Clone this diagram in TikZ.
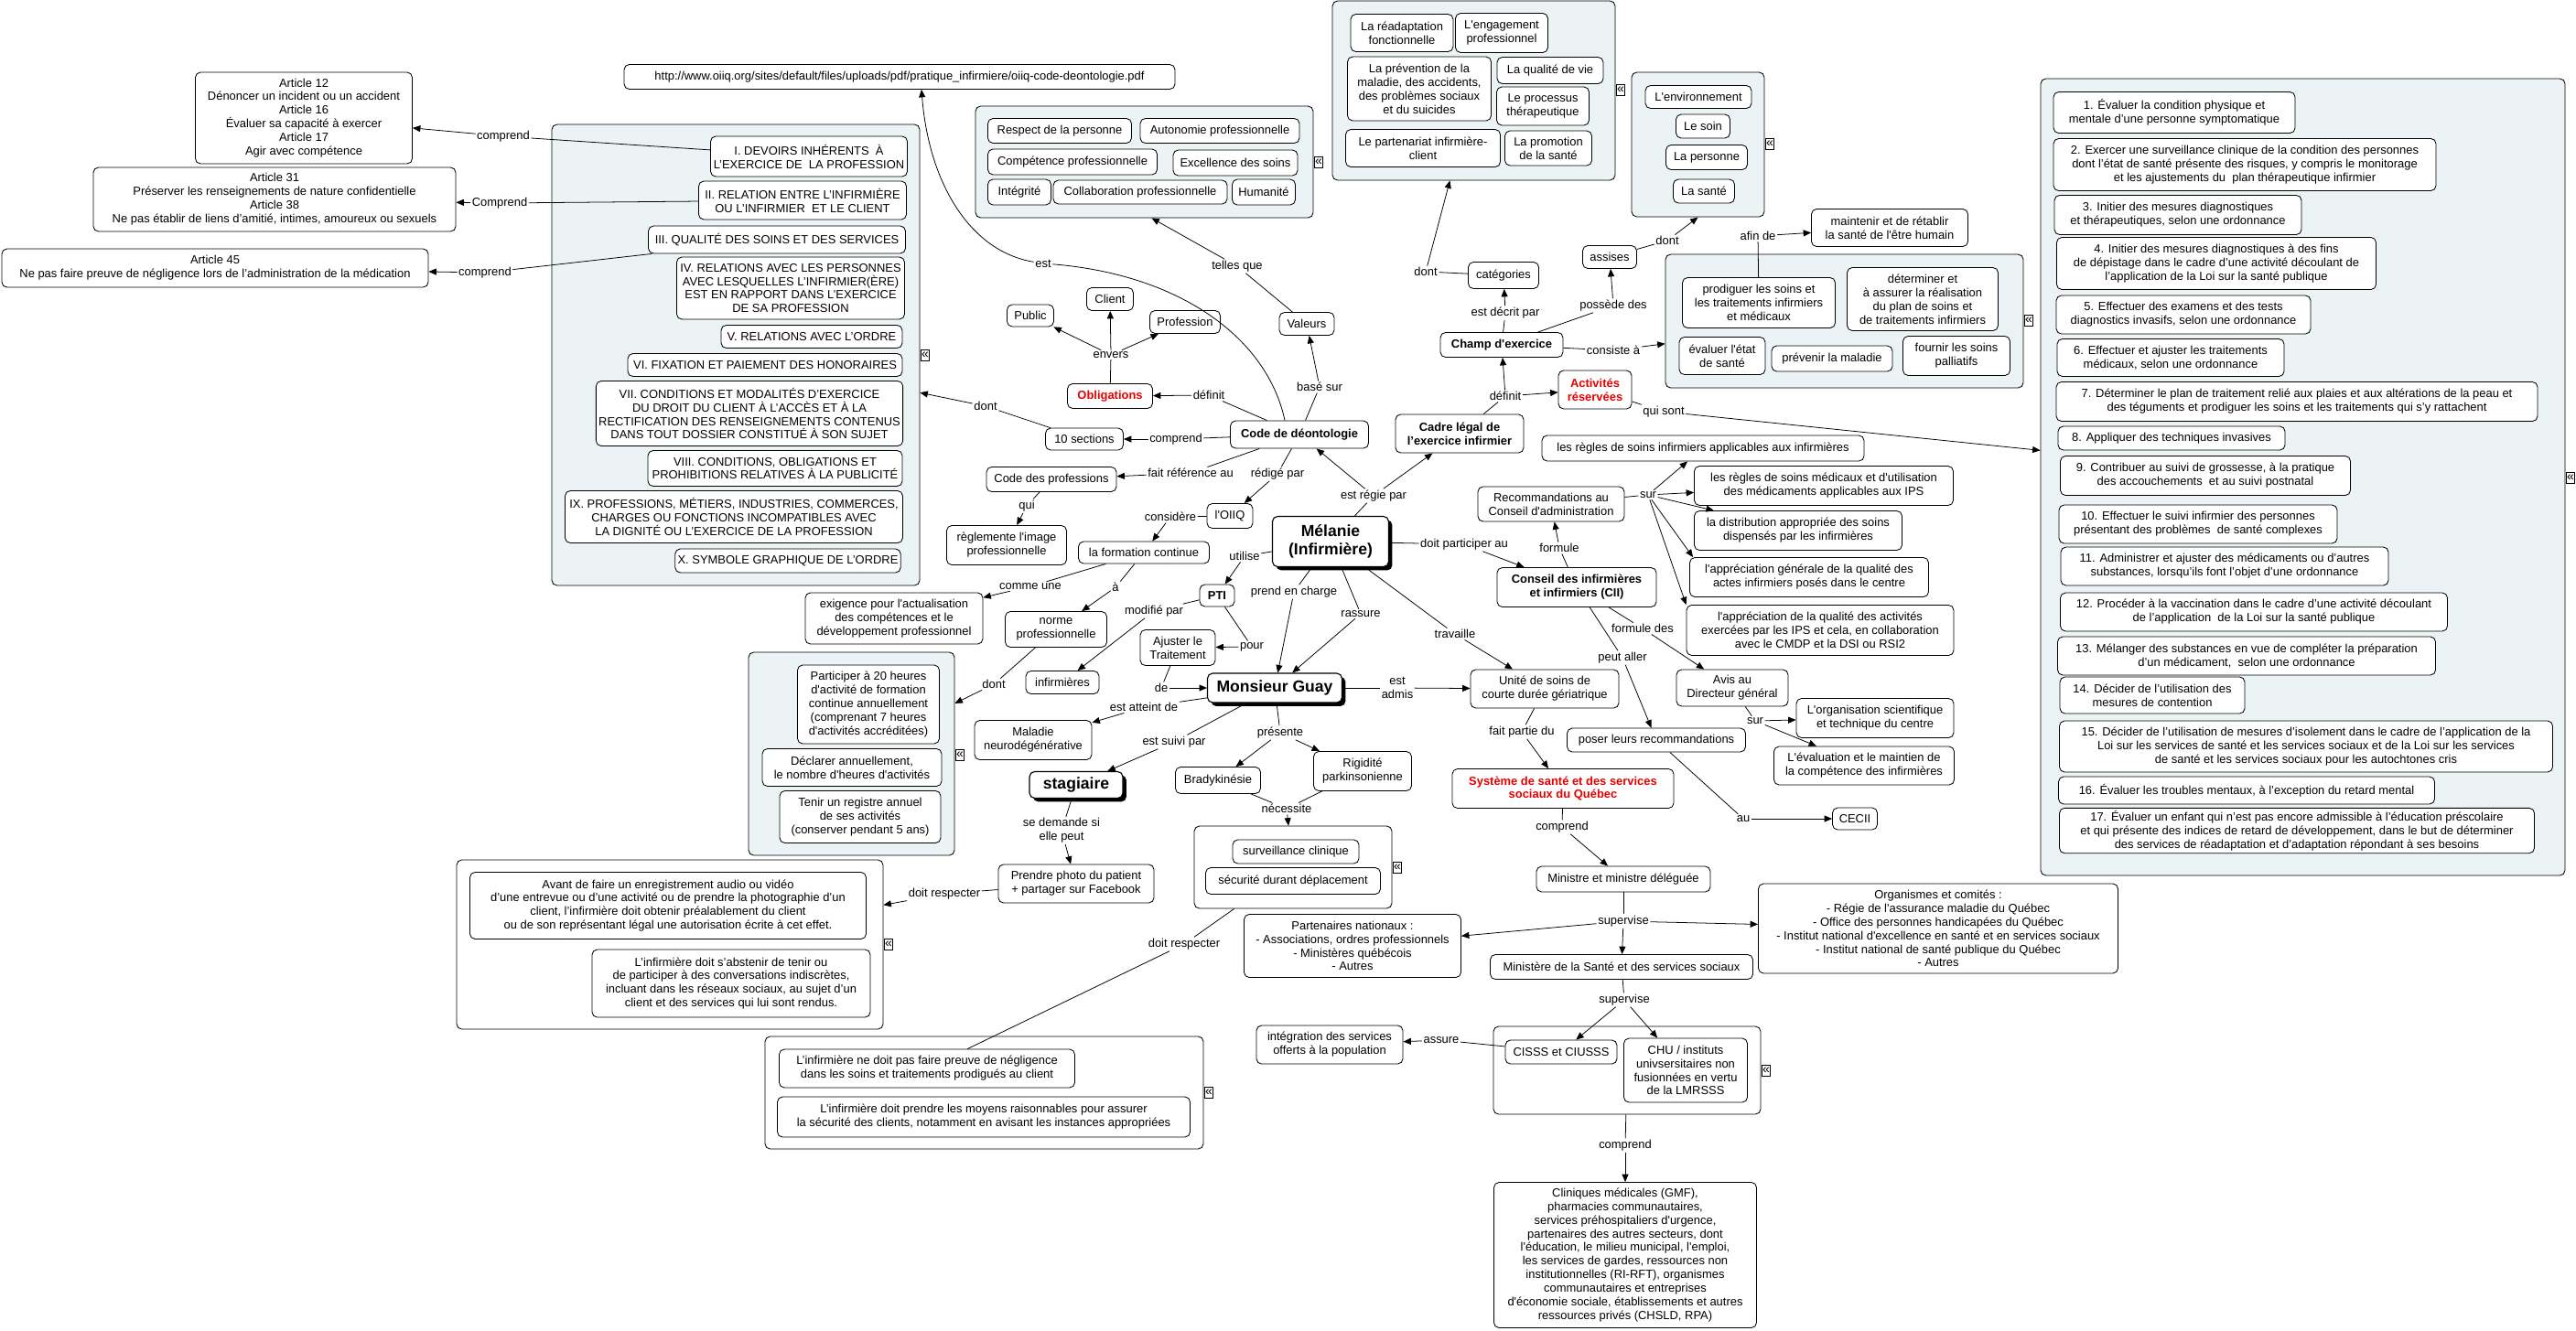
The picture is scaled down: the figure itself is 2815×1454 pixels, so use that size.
\documentclass[tikz,border=0pt]{standalone}
\usepackage{fontspec}
\newfontfamily\cmfam{Liberation Sans}
\usetikzlibrary{arrows.meta,shadows}
\definecolor{grpfill}{RGB}{235,243,245}
\definecolor{cmred}{RGB}{232,0,0}
\newcommand\cmtxt{\cmfam\fontsize{9.2}{10.6}\selectfont}
\newcommand\cmbig{\cmfam\bfseries\fontsize{12.5}{14.5}\selectfont}

\begin{document}
\begin{tikzpicture}[x=0.025cm, y=-0.025cm,
    sz/.style 2 args={minimum width=#1*0.025cm, minimum height=#2*0.025cm},
    cbox/.style={draw, line width=0.6pt, rounded corners=4pt, fill=white, align=center, inner sep=2pt, font=\cmtxt},
    keybox/.style={cbox, font=\cmtxt\bfseries},
    redbox/.style={keybox, text=cmred},
    focus/.style={cbox, line width=0.8pt, font=\cmbig,
                  drop shadow={shadow xshift=2.8pt, shadow yshift=-2.8pt, fill=black, opacity=1}},
    lnk/.style={inner sep=1pt, align=center, font=\cmtxt},
    grp/.style={draw, line width=0.6pt, rounded corners=4pt, fill=grpfill, inner sep=0pt},
    grpw/.style={grp, fill=white},
    fold/.style={draw, line width=0.5pt, inner sep=0pt, minimum width=0.24cm, minimum height=0.3cm, fill=white,
                 font=\cmfam\fontsize{10}{10}\selectfont},
    ln/.style={line width=0.55pt},
    arr/.style={ln, -{Triangle[length=6pt, width=5pt]}}
]
    \fill[white] (0,0) rectangle (2815,1454);
    \useasboundingbox (0,0) rectangle (2815,1454);

    \node[grp, sz={402}{504}] (secgrp) at (804,388) {};
    \node[grp, sz={369}{122}] (valgrp) at (1250.5,177) {};
    \node[grp, sz={309}{196}] (catgrp) at (1610.5,99) {};
    \node[grp, sz={145}{158}] (assgrp) at (1855.5,158) {};
    \node[grp, sz={391}{146}] (consgrp) at (2015.5,351) {};
    \node[grp, sz={573}{871}] (actgrp) at (2516.5,521.5) {};
    \node[grp, sz={225}{222}] (partgrp) at (930.5,824) {};
    \node[grpw, sz={216}{90}] (survgrp) at (1413,948) {};
    \node[grpw, sz={466}{185}] (avantgrp) at (732,1032.5) {};
    \node[grpw, sz={479}{123}] (neglgrp) at (1075.5,1194.5) {};
    \node[grpw, sz={292}{96}] (cissgrp) at (1778,1170) {};

    \node[fold] (fold1) at (1011,388) {«};
    \node[fold] (fold2) at (1441,177) {«};
    \node[fold] (fold3) at (1771,98) {«};
    \node[fold] (fold4) at (1934,157) {«};
    \node[fold] (fold5) at (2217,350) {«};
    \node[fold] (fold6) at (2809,522) {«};
    \node[fold] (fold7) at (1049,825) {«};
    \node[fold] (fold8) at (1527,948) {«};
    \node[fold] (fold9) at (971,1032) {«};
    \node[fold] (fold10) at (1321,1194) {«};
    \node[fold] (fold11) at (1930,1170) {«};

    \node[cbox, sz={237}{100}] (art12) at (332,129) {Article 12\\Dénoncer un incident ou un accident\\Article 16\\Évaluer sa capacité à exercer\\Article 17\\Agir avec compétence};
    \node[cbox, sz={396}{70}] (art31) at (300,218) {Article 31\\Préserver les renseignements de nature confidentielle\\Article 38\\Ne pas établir de liens d’amitié, intimes, amoureux ou sexuels};
    \node[cbox, sz={466}{42}] (art45) at (235,293) {Article 45\\Ne pas faire preuve de négligence lors de l’administration de la médication};
    \node[cbox, sz={602}{27}] (url) at (983,84) {http://www.oiiq.org/sites/default/files/uploads/pdf/pratique\_infirmiere/oiiq-code-deontologie.pdf};

    \node[cbox, sz={215}{44}] (sec1) at (884,171) {I. DEVOIRS INHÉRENTS \ À\\L’EXERCICE DE \ LA PROFESSION};
    \node[cbox, sz={227}{42}] (sec2) at (877,219) {II. RELATION ENTRE L’INFIRMIÈRE\\OU L’INFIRMIER \ ET LE CLIENT};
    \node[cbox, sz={281}{30}] (sec3) at (849,262) {III. QUALITÉ DES SOINS ET DES SERVICES};
    \node[cbox, sz={249}{68}] (sec4) at (864,315) {IV. RELATIONS AVEC LES PERSONNES\\AVEC LESQUELLES L’INFIRMIER(ÈRE)\\EST EN RAPPORT DANS L’EXERCICE\\DE SA PROFESSION};
    \node[cbox, sz={198}{25}] (sec5) at (887,368) {V. RELATIONS AVEC L’ORDRE};
    \node[cbox, sz={300}{25}] (sec6) at (836,399) {VI. FIXATION ET PAIEMENT DES HONORAIRES};
    \node[cbox, sz={334}{71}] (sec7) at (819,452) {VII. CONDITIONS ET MODALITÉS D’EXERCICE\\DU DROIT DU CLIENT À L’ACCÈS ET À LA\\RECTIFICATION DES RENSEIGNEMENTS CONTENUS\\DANS TOUT DOSSIER CONSTITUÉ À SON SUJET};
    \node[cbox, sz={278}{39}] (sec8) at (847,512) {VIII. CONDITIONS, OBLIGATIONS ET\\PROHIBITIONS RELATIVES À LA PUBLICITÉ};
    \node[cbox, sz={369}{57}] (sec9) at (802,565) {IX. PROFESSIONS, MÉTIERS, INDUSTRIES, COMMERCES,\\CHARGES OU FONCTIONS INCOMPATIBLES AVEC\\LA DIGNITÉ OU L’EXERCICE DE LA PROFESSION};
    \node[cbox, sz={244}{26}] (sec10) at (861,613) {X. SYMBOLE GRAPHIQUE DE L’ORDRE};

    \node[cbox, sz={157}{27}] (val1) at (1158,143) {Respect de la personne};
    \node[cbox, sz={174}{27}] (val2) at (1333,143) {Autonomie professionnelle};
    \node[cbox, sz={185}{28}] (val3) at (1172,177) {Compétence professionnelle};
    \node[cbox, sz={136}{28}] (val4) at (1350,178) {Excellence des soins};
    \node[cbox, sz={69}{28}] (val5) at (1114,210) {Intégrité};
    \node[cbox, sz={190}{26}] (val6) at (1246,210) {Collaboration professionnelle};
    \node[cbox, sz={69}{28}] (val7) at (1381,210) {Humanité};

    \node[cbox, sz={51}{25}] (client) at (1213,327) {Client};
    \node[cbox, sz={51}{24}] (public) at (1126,345) {Public};
    \node[cbox, sz={77}{25}] (prof) at (1295,352) {Profession};
    \node[redbox, sz={93}{27}] (oblig) at (1213,433) {Obligations};
    \node[cbox, sz={85}{24}] (sections) at (1185,480) {10 sections};
    \node[keybox, sz={151}{30}] (code) at (1420,475) {Code de déontologie};
    \node[cbox, sz={60}{25}] (valeurs) at (1428,354) {Valeurs};

    \node[cbox, sz={112}{41}] (cat1) at (1532,36) {La réadaptation\\fonctionnelle};
    \node[cbox, sz={101}{43}] (cat2) at (1641,36) {L'engagement\\professionnel};
    \node[cbox, sz={157}{70}] (cat3) at (1551,97) {La prévention de la\\maladie, des accidents,\\des problèmes sociaux\\et du suicides};
    \node[cbox, sz={116}{29}] (cat4) at (1694,77) {La qualité de vie};
    \node[cbox, sz={101}{42}] (cat5) at (1686,116) {Le processus\\thérapeutique};
    \node[cbox, sz={169}{41}] (cat6) at (1555,162) {Le partenariat infirmière-\\client};
    \node[cbox, sz={95}{38}] (cat7) at (1692,162) {La promotion\\de la santé};

    \node[cbox, sz={116}{25}] (ass1) at (1856,106) {L'environnement};
    \node[cbox, sz={59}{26}] (ass2) at (1861,138) {Le soin};
    \node[cbox, sz={89}{27}] (ass3) at (1865,172) {La personne};
    \node[cbox, sz={67}{26}] (ass4) at (1862,209) {La santé};

    \node[cbox, sz={59}{25}] (assises) at (1759,281) {assises};
    \node[cbox, sz={77}{29}] (categ) at (1643,301) {catégories};
    \node[keybox, sz={134}{27}] (champ) at (1641,377) {Champ d'exercice};
    \node[redbox, sz={80}{42}] (activ) at (1743,426) {Activités\\réservées};
    \node[keybox, sz={140}{42}] (cadre) at (1595,474) {Cadre légal de\\l’exercice infirmier};

    \node[cbox, sz={167}{55}] (cons1) at (1922,331) {prodiguer les soins et\\les traitements infirmiers\\et médicaux};
    \node[cbox, sz={165}{69}] (cons2) at (2101,327) {déterminer et\\à assurer la réalisation\\du plan de soins et\\de traitements infirmiers};
    \node[cbox, sz={94}{41}] (cons3) at (1882,389) {évaluer l'état\\de santé};
    \node[cbox, sz={132}{28}] (cons4) at (2002,392) {prévenir la maladie};
    \node[cbox, sz={117}{43}] (cons5) at (2138,389) {fournir les soins\\palliatifs};
    \node[cbox, sz={171}{41}] (maint) at (2065,249) {maintenir et de rétablir\\la santé de l'être humain};

    \node[cbox, sz={264}{45}] (act1) at (2376,123) {1. Évaluer la condition physique et\\mentale d’une personne symptomatique};
    \node[cbox, sz={418}{57}] (act2) at (2453,180) {2. Exercer une surveillance clinique de la condition des personnes\\dont l’état de santé présente des risques, y compris le monitorage\\et les ajustements du \ plan thérapeutique infirmier};
    \node[cbox, sz={270}{43}] (act3) at (2380,235) {3. Initier des mesures diagnostiques\\et thérapeutiques, selon une ordonnance};
    \node[cbox, sz={349}{57}] (act4) at (2422,288) {4. Initier des mesures diagnostiques à des fins\\de dépistage dans le cadre d’une activité découlant de\\l’application de la Loi sur la santé publique};
    \node[cbox, sz={278}{42}] (act5) at (2386,344) {5. Effectuer des examens et des tests\\diagnostics invasifs, selon une ordonnance};
    \node[cbox, sz={248}{41}] (act6) at (2372,391) {6. Effectuer et ajuster les traitements\\médicaux, selon une ordonnance};
    \node[cbox, sz={526}{43}] (act7) at (2510,439) {7. Déterminer le plan de traitement relié aux plaies et aux altérations de la peau et\\des téguments et prodiguer les soins et les traitements qui s’y rattachent};
    \node[cbox, sz={248}{26}] (act8) at (2373,479) {8. Appliquer des techniques invasives};
    \node[cbox, sz={317}{43}] (act9) at (2410,520) {9. Contribuer au suivi de grossesse, à la pratique\\des accouchements \ et au suivi postnatal};
    \node[cbox, sz={304}{42}] (act10) at (2402,573) {10. Effectuer le suivi infirmier des personnes\\présentant des problèmes \ de santé complexes};
    \node[cbox, sz={358}{42}] (act11) at (2431,619) {11. Administrer et ajuster des médicaments ou d’autres\\substances, lorsqu’ils font l’objet d’une ordonnance};
    \node[cbox, sz={423}{42}] (act12) at (2463,669) {12. Procéder à la vaccination dans le cadre d’une activité découlant\\de l’application \ de la Loi sur la santé publique};
    \node[cbox, sz={413}{42}] (act13) at (2455,717) {13. Mélanger des substances en vue de compléter la préparation\\d’un médicament, \ selon une ordonnance};
    \node[cbox, sz={202}{40}] (act14) at (2352,760) {14. Décider de l’utilisation des\\mesures de contention};
    \node[cbox, sz={539}{56}] (act15) at (2520,816) {15. Décider de l’utilisation de mesures d’isolement dans le cadre de l’application de la\\Loi sur les services de santé et les services sociaux et de la Loi sur les services\\de santé et les services sociaux pour les autochtones cris};
    \node[cbox, sz={411}{30}] (act16) at (2455,864) {16. Évaluer les troubles mentaux, à l’exception du retard mental};
    \node[cbox, sz={519}{48}] (act17) at (2510,908) {17. Évaluer un enfant qui n’est pas encore admissible à l’éducation préscolaire\\et qui présente des indices de retard de développement, dans le but de déterminer\\des services de réadaptation et d’adaptation répondant à ses besoins};

    \node[focus, sz={127}{55}] (melanie) at (1454,592) {Mélanie\\(Infirmière)};
    \node[focus, sz={147}{32}] (guay) at (1393,752) {Monsieur Guay};
    \node[focus, sz={102}{29}] (stag) at (1176,858) {stagiaire};

    \node[cbox, sz={142}{27}] (codeprof) at (1149,524) {Code des professions};
    \node[cbox, sz={50}{27}] (oiiq) at (1344,564) {l'OIIQ};
    \node[cbox, sz={143}{24}] (formation) at (1250,604) {la formation continue};
    \node[cbox, sz={131}{43}] (regl) at (1100,596) {règlemente l'image\\professionnelle};
    \node[cbox, sz={194}{56}] (exig) at (977,676) {exigence pour l'actualisation\\des compétences et le\\développement professionnel};
    \node[cbox, sz={111}{39}] (norme) at (1154,688) {norme\\professionnelle};
    \node[cbox, sz={155}{86}] (part1) at (949,770) {Participer à 20 heures\\d'activité de formation\\continue annuellement\\(comprenant 7 heures\\d'activités accréditées)};
    \node[cbox, sz={196}{41}] (part2) at (931,839) {Déclarer annuellement,\\le nombre d'heures d'activités};
    \node[cbox, sz={176}{57}] (part3) at (940,893) {Tenir un registre annuel\\de ses activités\\(conserver pendant 5 ans)};
    \node[keybox, sz={38}{24}] (pti) at (1330,651) {PTI};
    \node[cbox, sz={80}{25}] (infirm) at (1161,746) {infirmières};
    \node[cbox, sz={82}{39}] (ajust) at (1287,708) {Ajuster le\\Traitement};
    \node[cbox, sz={128}{43}] (maladie) at (1129,809) {Maladie\\neurodégénérative};
    \node[cbox, sz={170}{42}] (photo) at (1176,966) {Prendre photo du patient\\+ partager sur Facebook};
    \node[cbox, sz={93}{29}] (brady) at (1331,853) {Bradykinésie};
    \node[cbox, sz={107}{43}] (rigid) at (1489,843) {Rigidité\\parkinsonienne};
    \node[cbox, sz={138}{26}] (surv1) at (1416,931) {surveillance clinique};
    \node[cbox, sz={191}{29}] (surv2) at (1413,963) {sécurité durant déplacement};
    \node[cbox, sz={433}{73}] (avant1) at (730,990) {Avant de faire un enregistrement audio ou vidéo\\d’une entrevue ou d’une activité ou de prendre la photographie d’un\\client, l’infirmière doit obtenir préalablement du client\\ou de son représentant légal une autorisation écrite à cet effet.};
    \node[cbox, sz={304}{74}] (avant2) at (799,1075) {L’infirmière doit s’abstenir de tenir ou\\de participer à des conversations indiscrètes,\\incluant dans les réseaux sociaux, au sujet d’un\\client et des services qui lui sont rendus.};
    \node[cbox, sz={323}{42}] (negl1) at (1013,1168) {L’infirmière ne doit pas faire preuve de négligence\\dans les soins et traitements prodigués au client};
    \node[cbox, sz={451}{44}] (negl2) at (1075,1221) {L’infirmière doit prendre les moyens raisonnables pour assurer\\la sécurité des clients, notamment en avisant les instances appropriées};

    \node[keybox, sz={174}{43}] (cii) at (1723,642) {Conseil des infirmières\\et infirmiers (CII)};
    \node[cbox, sz={160}{38}] (recom) at (1695,551) {Recommandations au\\Conseil d'administration};
    \node[cbox, sz={352}{28}] (regles) at (1861,490) {les règles de soins infirmiers applicables aux infirmières};
    \node[cbox, sz={283}{43}] (medic) at (1993,531) {les règles de soins médicaux et d'utilisation\\des médicaments applicables aux IPS};
    \node[cbox, sz={227}{43}] (distrib) at (1965,580) {la distribution appropriée des soins\\dispensés par les infirmières};
    \node[cbox, sz={261}{43}] (appgen) at (1977,631) {l'appréciation générale de la qualité des\\actes infirmiers posés dans le centre};
    \node[cbox, sz={292}{55}] (appqual) at (1989,689) {l'appréciation de la qualité des activités\\exercées par les IPS et cela, en collaboration\\avec le CMDP et la DSI ou RSI2};
    \node[cbox, sz={162}{42}] (unite) at (1688,753) {Unité de soins de\\courte durée gériatrique};
    \node[cbox, sz={122}{40}] (avis) at (1893,752) {Avis au\\Directeur général};
    \node[cbox, sz={172}{43}] (organis) at (2049,785) {L'organisation scientifique\\et technique du centre};
    \node[cbox, sz={197}{42}] (evalu) at (2037,837) {L'évaluation et le maintien de\\la compétence des infirmières};
    \node[cbox, sz={195}{26}] (poser) at (1810,809) {poser leurs recommandations};
    \node[cbox, sz={49}{24}] (cecii) at (2027,895) {CECII};
    \node[redbox, sz={242}{43}] (systeme) at (1708,862) {Système de santé et des services\\sociaux du Québec};
    \node[cbox, sz={190}{28}] (ministre) at (1774,961) {Ministre et ministre déléguée};
    \node[cbox, sz={237}{69}] (partn) at (1478,1034) {Partenaires nationaux :\\- Associations, ordres professionnels\\- Ministères québécois\\- Autres};
    \node[cbox, sz={393}{98}] (organ) at (2118,1015) {Organismes et comités :\\- Régie de l'assurance maladie du Québec\\- Office des personnes handicapées du Québec\\- Institut national d'excellence en santé et en services sociaux\\- Institut national de santé publique du Québec\\- Autres};
    \node[cbox, sz={287}{27}] (minist) at (1772,1057) {Ministère de la Santé et des services sociaux};
    \node[cbox, sz={122}{26}] (cisss) at (1706,1150) {CISSS et CIUSSS};
    \node[cbox, sz={135}{70}] (chu) at (1842,1170) {CHU / instituts\\univsersitaires non\\fusionnées en vertu\\de la LMRSSS};
    \node[cbox, sz={160}{42}] (integ) at (1453,1142) {intégration des services\\offerts à la population};
    \node[cbox, sz={287}{159}] (clin) at (1776,1372) {Cliniques médicales (GMF),\\pharmacies communautaires,\\services préhospitaliers d'urgence,\\partenaires des autres secteurs, dont\\l'éducation, le milieu municipal, l'emploi,\\les services de gardes, ressources non\\institutionnelles (RI-RFT), organismes\\communautaires et entreprises\\d'économie sociale, établissements et autres\\ressources privés (CHSLD, RPA)};

    \node[lnk] (lc1) at (550,149) {comprend};
    \node[lnk] (lc2) at (546,222) {Comprend};
    \node[lnk] (lc3) at (530,298) {comprend};
    \node[lnk] (lest) at (1140,288) {est};
    \node[lnk] (ltelles) at (1352,291) {telles que};
    \node[lnk] (lbase) at (1442,423) {basé sur};
    \node[lnk] (lenvers) at (1214,388) {envers};
    \node[lnk] (ldefinit) at (1321,432) {définit};
    \node[lnk] (ldont1) at (1077,444) {dont};
    \node[lnk] (lcomprend) at (1285,480) {comprend};
    \node[lnk] (lfait) at (1301,517) {fait référence au};
    \node[lnk] (lredige) at (1396,518) {rédigé par};
    \node[lnk] (lqui) at (1122,553) {qui};
    \node[lnk] (lconsid) at (1279,565) {considère};
    \node[lnk] (lcomme) at (1126,641) {comme une};
    \node[lnk] (la) at (1219,642) {à};
    \node[lnk] (ldont2) at (1086,748) {dont};
    \node[lnk] (lutilise) at (1360,608) {utilise};
    \node[lnk] (lmodif) at (1261,668) {modifié par};
    \node[lnk] (lpour) at (1368,707) {pour};
    \node[lnk] (lde) at (1269,752) {de};
    \node[lnk] (lprend) at (1414,647) {prend en charge};
    \node[lnk] (lrassure) at (1487,671) {rassure};
    \node[lnk] (latteint) at (1250,773) {est atteint de};
    \node[lnk] (lsuivi) at (1283,811) {est suivi par};
    \node[lnk] (ldemande) at (1160,908) {se demande si\\elle peut};
    \node[lnk] (lresp1) at (1032,977) {doit respecter};
    \node[lnk] (lpresente) at (1399,801) {présente};
    \node[lnk] (lnecess) at (1406,884) {nécessite};
    \node[lnk] (lresp2) at (1294,1032) {doit respecter};
    \node[lnk] (lregie) at (1501,542) {est régie par};
    \node[lnk] (ldefinit2) at (1645,433) {définit};
    \node[lnk] (ldecrit) at (1645,342) {est décrit par};
    \node[lnk] (ldont3) at (1558,297) {dont};
    \node[lnk] (lpossede) at (1763,334) {possède des};
    \node[lnk] (ldont4) at (1822,263) {dont};
    \node[lnk] (lconsiste) at (1763,383) {consiste à};
    \node[lnk] (lafin) at (1921,258) {afin de};
    \node[lnk] (lquisont) at (1818,450) {qui sont};
    \node[lnk] (lpartic) at (1600,595) {doit participer au};
    \node[lnk] (lformule) at (1704,599) {formule};
    \node[lnk] (lsur1) at (1801,541) {sur};
    \node[lnk] (ltravaille) at (1590,693) {travaille};
    \node[lnk] (ladmis) at (1527,752) {est\\admis};
    \node[lnk] (lformdes) at (1795,687) {formule des};
    \node[lnk] (lpeut) at (1773,719) {peut aller};
    \node[lnk] (lsur2) at (1918,788) {sur};
    \node[lnk] (lau) at (1905,895) {au};
    \node[lnk] (lpartie) at (1663,800) {fait partie du};
    \node[lnk] (lcomprend2) at (1707,904) {comprend};
    \node[lnk] (lsuperv1) at (1774,1007) {supervise};
    \node[lnk] (lsuperv2) at (1775,1093) {supervise};
    \node[lnk] (lassure) at (1575,1137) {assure};
    \node[lnk] (lcomprend3) at (1776,1252) {comprend};

    \draw[ln] (sec1) -- (lc1);  \draw[arr] (lc1) -- (art12);
    \draw[ln] (sec2) -- (lc2);  \draw[arr] (lc2) -- (art31);
    \draw[ln] (sec3) -- (lc3);  \draw[arr] (lc3) -- (art45);
    \draw[ln] ([xshift=-0.4cm]code.north) .. controls (1385,370) and (1290,300) .. (lest);
    \draw[arr] (lest) .. controls (1060,275) and (1015,200) .. ([xshift=0.6cm]url.south);
    \draw[ln] (valeurs) -- (ltelles);  \draw[arr] (ltelles) -- ([xshift=0.2cm]valgrp.south);
    \draw[ln] (code) -- (lbase);  \draw[arr] (lbase) -- (valeurs);
    \draw[ln] (oblig) -- (lenvers);
    \draw[arr] (lenvers) -- (public);  \draw[arr] (lenvers) -- (client);  \draw[arr] (lenvers) -- (prof);
    \draw[ln] (code) -- (ldefinit);  \draw[arr] (ldefinit) -- (oblig);
    \draw[ln] (sections) -- (ldont1);  \draw[arr] (ldont1) -- (secgrp);
    \draw[ln] (code) -- (lcomprend);  \draw[arr] (lcomprend) -- (sections);
    \draw[ln] (code) -- (lfait);  \draw[arr] (lfait) -- (codeprof);
    \draw[ln] (code) -- (lredige);  \draw[arr] (lredige) -- (oiiq);
    \draw[ln] (codeprof) -- (lqui);  \draw[arr] (lqui) -- (regl);
    \draw[ln] (oiiq) -- (lconsid);  \draw[arr] (lconsid) -- (formation);
    \draw[ln] (formation) -- (lcomme);  \draw[arr] (lcomme) -- (exig);
    \draw[ln] (formation) -- (la);  \draw[arr] (la) -- (norme);
    \draw[ln] (norme) -- (ldont2);  \draw[arr] (ldont2) -- (partgrp);
    \draw[ln] (melanie) -- (lutilise);  \draw[arr] (lutilise) -- (pti);
    \draw[ln] (pti) -- (lmodif);  \draw[arr] (lmodif) -- (infirm);
    \draw[ln] (pti) -- (lpour);  \draw[arr] (lpour) -- (ajust);
    \draw[ln] (ajust) -- (lde);  \draw[arr] (lde) -- (guay);
    \draw[ln] (melanie) -- (lprend);  \draw[arr] (lprend) -- (guay);
    \draw[ln] (melanie) -- (lrassure);  \draw[arr] (lrassure) -- (guay);
    \draw[ln] (guay) -- (latteint);  \draw[arr] (latteint) -- (maladie);
    \draw[ln] (guay) -- (lsuivi);  \draw[arr] (lsuivi) -- (stag);
    \draw[ln] (stag) -- (ldemande);  \draw[arr] (ldemande) -- (photo);
    \draw[ln] (photo) -- (lresp1);  \draw[arr] (lresp1) -- (avantgrp);
    \draw[ln] (guay) -- (lpresente);
    \draw[arr] (lpresente) -- (brady);  \draw[arr] (lpresente) -- (rigid);
    \draw[ln] (brady) -- (lnecess);  \draw[ln] (rigid) -- (lnecess);
    \draw[arr] (lnecess) -- (survgrp);
    \draw[ln] (survgrp) -- (lresp2);  \draw[ln] (lresp2) -- (negl1);
    \draw[ln] (melanie) -- (lregie);
    \draw[arr] (lregie) -- (code);  \draw[arr] (lregie) -- (cadre);
    \draw[ln] (cadre) -- (ldefinit2);
    \draw[arr] (ldefinit2) -- (champ);  \draw[arr] (ldefinit2) -- (activ);
    \draw[ln] (champ) -- (ldecrit);  \draw[arr] (ldecrit) -- (categ);
    \draw[ln] (categ) -- (ldont3);  \draw[arr] (ldont3) -- (catgrp);
    \draw[ln] (champ) -- (lpossede);  \draw[arr] (lpossede) -- (assises);
    \draw[ln] (assises) -- (ldont4);  \draw[arr] (ldont4) -- (assgrp.south);
    \draw[ln] (champ) -- (lconsiste);  \draw[arr] (lconsiste) -- (consgrp);
    \draw[ln] (cons1) -- (lafin);  \draw[arr] (lafin) -- (maint);
    \draw[ln] (activ) -- (lquisont);  \draw[arr] (lquisont) -- (actgrp);
    \draw[ln] (melanie) -- (lpartic);  \draw[arr] (lpartic) -- (cii);
    \draw[ln] (cii) -- (lformule);  \draw[arr] (lformule) -- (recom);
    \draw[ln] (recom) -- (lsur1);
    \draw[arr] (lsur1) -- (regles);  \draw[arr] (lsur1) -- (medic);  \draw[arr] (lsur1) -- (distrib);
    \draw[arr] (lsur1) -- ([xshift=0.1cm]appgen.north west);  \draw[arr] (lsur1) -- (appqual.north west);
    \draw[ln] (melanie) -- (ltravaille);  \draw[arr] (ltravaille) -- (unite);
    \draw[ln] (guay) -- (ladmis);  \draw[arr] (ladmis) -- (unite);
    \draw[ln] (cii) -- (lformdes);  \draw[arr] (lformdes) -- (avis);
    \draw[ln] (cii) -- (lpeut);  \draw[arr] (lpeut) -- (poser);
    \draw[ln] (avis) -- (lsur2);
    \draw[arr] (lsur2) -- (organis);  \draw[arr] (lsur2) -- (evalu);
    \draw[ln] (poser) -- (lau);  \draw[arr] (lau) -- (cecii);
    \draw[ln] (unite) -- (lpartie);  \draw[arr] (lpartie) -- (systeme);
    \draw[ln] (systeme) -- (lcomprend2);  \draw[arr] (lcomprend2) -- (ministre);
    \draw[ln] (ministre) -- (lsuperv1);
    \draw[arr] (lsuperv1) -- (minist);  \draw[arr] (lsuperv1) -- (partn);  \draw[arr] (lsuperv1) -- (organ);
    \draw[ln] (minist) -- (lsuperv2);
    \draw[arr] (lsuperv2) -- (cisss);  \draw[arr] (lsuperv2) -- (chu);
    \draw[ln] (cisss) -- (lassure);  \draw[arr] (lassure) -- (integ);
    \draw[ln] (cissgrp) -- (lcomprend3);  \draw[arr] (lcomprend3) -- (clin);
\end{tikzpicture}
\end{document}
